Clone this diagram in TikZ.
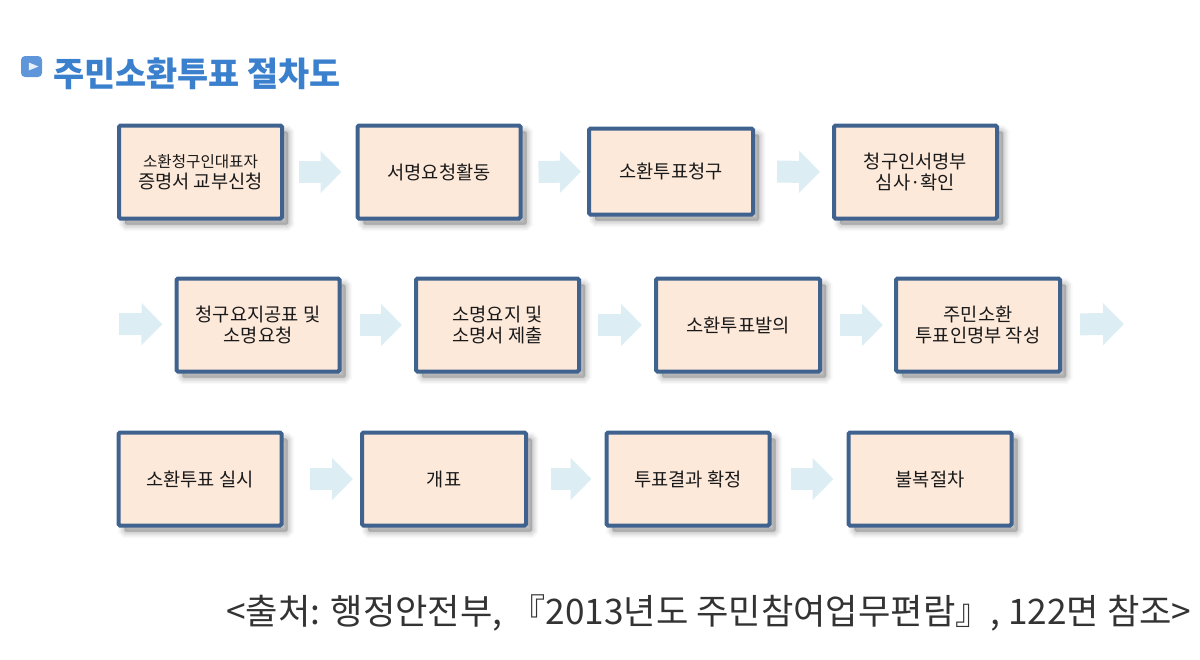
\documentclass[tikz,border=0pt]{standalone}
\usepackage{fontspec}
\setmainfont{Noto Sans CJK KR}
\usetikzlibrary{arrows.meta,shadows,shapes.geometric}
\definecolor{boxline}{HTML}{3F628F}
\definecolor{boxfill}{HTML}{FDE9DA}
\definecolor{arrowfill}{HTML}{DCEDF4}
\definecolor{titleblue}{HTML}{3A80CD}
\definecolor{iconblue}{HTML}{5F95D9}
\tikzset{
  softshadow/.style={
    general shadow={shadow xshift=6pt,shadow yshift=-6pt,fill=black,draw=black,line width=13pt,opacity=.025},
    general shadow={shadow xshift=6pt,shadow yshift=-6pt,fill=black,draw=black,line width=10pt,opacity=.04},
    general shadow={shadow xshift=6pt,shadow yshift=-6pt,fill=black,draw=black,line width=7pt,opacity=.05},
    general shadow={shadow xshift=6pt,shadow yshift=-6pt,fill=black,draw=black,line width=4pt,opacity=.05},
    general shadow={shadow xshift=6pt,shadow yshift=-6pt,fill=black,draw=black,line width=1pt,opacity=.05}},
  stepbox/.style={rectangle,rounded corners=1.5pt,draw=boxline,fill=boxfill,line width=4pt,
    minimum width=163pt,minimum height=93pt,inner sep=0pt,align=center,text=black!90,
    font=\fontsize{18.7}{21}\selectfont,softshadow},
  flowarrow/.style={draw=arrowfill,line width=22pt,-{Triangle[length=21pt,width=41pt,color=arrowfill]}}
}
\begin{document}
\begin{tikzpicture}[x=1pt,y=-1pt]
  \useasboundingbox (0,0) rectangle (1200,659);
  \node[rectangle,rounded corners=4pt,fill=iconblue,minimum width=21pt,minimum height=21pt,inner sep=0pt] (icon) at (31.5,66.5) {};
  \node[isosceles triangle,fill=white,inner sep=0pt,minimum height=6pt,minimum width=8pt,opacity=.85] (iconmark) at (icon.center) {};
  \node[anchor=west,inner sep=0pt,text=titleblue,font=\fontsize{33.8}{36}\selectfont\bfseries] (title) at (53,74) {주민소환투표 절차도};

  \node[stepbox] (b1) at (200.5,172) {{\fontsize{15.6}{21}\selectfont 소환청구인대표자}\\증명서 교부신청};
  \node[stepbox] (b2) at (439,172) {서명요청활동};
  \node[stepbox,minimum width=164pt,minimum height=86pt] (b3) at (671,171.5) {소환투표청구};
  \node[stepbox] (b4) at (915.5,172) {청구인서명부\\심사·확인};

  \node[stepbox] (b5) at (258,325) {청구요지공표 및\\소명요청};
  \node[stepbox] (b6) at (497.5,325) {소명요지 및\\소명서 제출};
  \node[stepbox,minimum width=164pt] (b7) at (738,325) {소환투표발의};
  \node[stepbox,minimum width=164pt] (b8) at (978,325) {주민소환\\투표인명부 작성};

  \node[stepbox] (b9) at (200,479) {소환투표 실시};
  \node[stepbox,minimum width=164pt] (b10) at (444,479) {개표};
  \node[stepbox] (b11) at (688,479) {투표결과 확정};
  \node[stepbox] (b12) at (930,479) {불복절차};

  \node[anchor=west,inner sep=0pt,text=black!80,font=\fontsize{35.2}{38}\selectfont] (source) at (226,613) {<출처: 행정안전부, 『2013년도 주민참여업무편람』, 122면 참조>};

  \coordinate (rowstart) at (119,324);
  \coordinate (rowend) at (1124,324);
  \begin{scope}[flowarrow]
    \draw[shorten <=15pt,shorten >=14pt] (b1) to (b2);
    \draw[shorten <=16pt,shorten >=6pt] (b2) to (b3);
    \draw[shorten <=22pt,shorten >=12pt] (b3) to (b4);
    \draw[shorten >=12pt] (rowstart) to (b5);
    \draw[shorten <=18pt,shorten >=12pt] (b5) to (b6);
    \draw[shorten <=17pt,shorten >=12pt] (b6) to (b7);
    \draw[shorten <=18pt,shorten >=11pt] (b7) to (b8);
    \draw[shorten <=18pt] (b8) to (rowend);
    \draw[shorten <=26pt,shorten >=7pt] (b9) to (b10);
    \draw[shorten <=23pt,shorten >=13pt] (b10) to (b11);
    \draw[shorten <=19pt,shorten >=13pt] (b11) to (b12);
  \end{scope}
\end{tikzpicture}
\end{document}
